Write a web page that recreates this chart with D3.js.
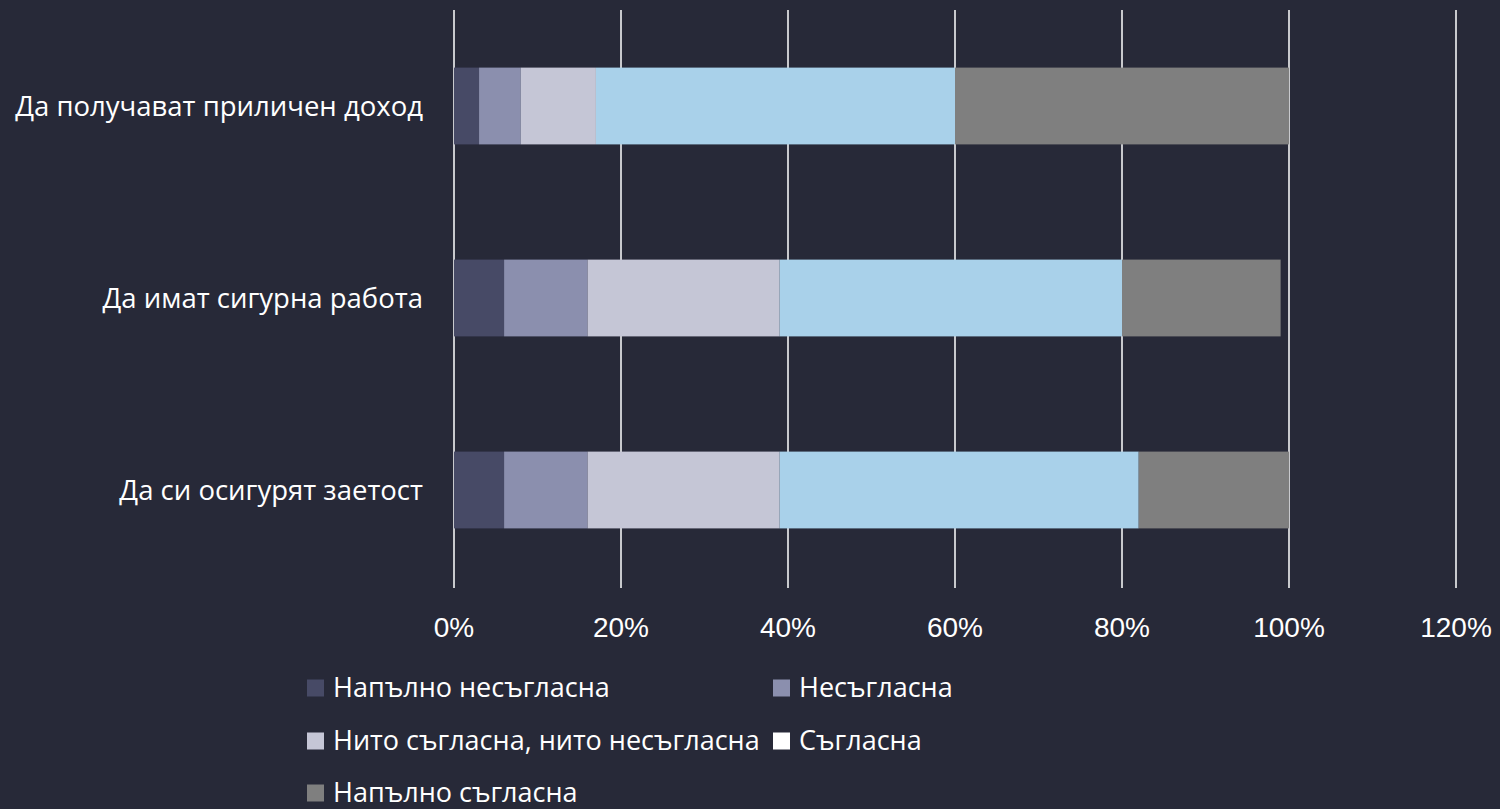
<!DOCTYPE html>
<html>
<head>
<meta charset="utf-8">
<script src="https://cdn.jsdelivr.net/npm/d3@7"></script>
<style>
  body { margin: 0; background: #272938; }
</style>
</head>
<body>
<script>
// categories and series
const categories = ["Да получават приличен доход", "Да имат сигурна работа", "Да си осигурят заетост"];
const seriesNames = ["Напълно несъгласна", "Несъгласна", "Нито съгласна, нито несъгласна", "Съгласна", "Напълно съгласна"];
const fullyDisagree = [3, 6, 6];
const disagree = [5, 10, 10];
const neutral = [9, 23, 23];
const agree = [43, 41, 43];
const fullyAgree = [40, 19, 18];
const tickValues = [0, 20, 40, 60, 80, 100, 120];

const colors = ["#474a66", "#8b8fae", "#c5c6d6", "#a9d1ea", "#7f7f7f"];
const legendColors = ["#474a66", "#8b8fae", "#c5c6d6", "#ffffff", "#7f7f7f"];

let svgWidth = 1500;
let svgHeight = 809;

var svg = d3.select("body")
  .append("svg")
  .attr("width", svgWidth)
  .attr("height", svgHeight)
  .style("display", "block");

svg.append("rect").attr("width", svgWidth).attr("height", svgHeight).attr("fill", "#272938");

// build rows for stack
var rows = categories.map((c, i) => ({
  cat: c,
  s0: fullyDisagree[i], s1: disagree[i], s2: neutral[i], s3: agree[i], s4: fullyAgree[i]
}));
var keys = ["s0", "s1", "s2", "s3", "s4"];
var stacked = d3.stack().keys(keys)(rows);

var x = d3.scaleLinear().domain([0, 120]).range([454, 1456]);
var y = d3.scaleBand().domain(categories).range([10, 586]).paddingInner(0.6).paddingOuter(0.3);

// gridlines
svg.append("g").selectAll("line")
  .data(tickValues)
  .enter()
  .append("line")
  .attr("x1", d => x(d)).attr("x2", d => x(d))
  .attr("y1", 10).attr("y2", 588)
  .attr("stroke", "#ffffff")
  .attr("stroke-width", 1.5);

// bars
svg.append("g").selectAll("g")
  .data(stacked)
  .enter()
  .append("g")
  .attr("fill", (d, i) => colors[i])
  .selectAll("rect")
  .data(d => d)
  .enter()
  .append("rect")
  .attr("x", d => x(d[0]))
  .attr("y", d => y(d.data.cat))
  .attr("width", d => x(d[1]) - x(d[0]))
  .attr("height", y.bandwidth());

// x axis labels
svg.append("g").selectAll("text")
  .data(tickValues)
  .enter()
  .append("text")
  .attr("x", d => x(d))
  .attr("y", 637)
  .attr("text-anchor", "middle")
  .attr("font-family", "'Liberation Sans', Arial, sans-serif")
  .attr("font-size", "28px")
  .attr("fill", "#ffffff")
  .text(d => d + "%");

// category labels
svg.append("g").selectAll("text")
  .data(categories)
  .enter()
  .append("text")
  .attr("x", 423)
  .attr("y", d => y(d) + y.bandwidth() / 2)
  .attr("dy", "0.35em")
  .attr("text-anchor", "end")
  .attr("font-family", "'Open Sans', sans-serif")
  .attr("font-size", "27.5px")
  .attr("fill", "#ffffff")
  .text(d => d);

// legend
var legendPos = [[307, 688], [773, 688], [307, 741], [773, 741], [307, 793]];
var legend = svg.append("g").selectAll("g")
  .data(seriesNames)
  .enter()
  .append("g")
  .attr("transform", (d, i) => `translate(${legendPos[i][0]}, ${legendPos[i][1]})`);

legend.append("rect")
  .attr("x", 0).attr("y", -8.5)
  .attr("width", 17).attr("height", 17)
  .attr("fill", (d, i) => legendColors[i]);

legend.append("text")
  .attr("x", 26)
  .attr("y", 0)
  .attr("dy", "0.35em")
  .attr("font-family", "'Open Sans', sans-serif")
  .attr("font-size", "27px")
  .attr("fill", "#ffffff")
  .text(d => d);
</script>
</body>
</html>
